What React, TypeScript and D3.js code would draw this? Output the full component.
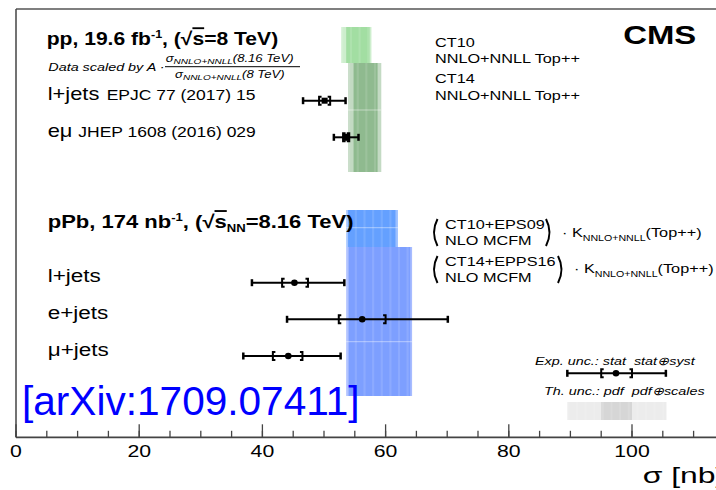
import React from "react";
import * as d3 from "d3";

// ---------- data ----------
const ppChannels = ["l+jets", "eμ"];
const ppRefs = ["EPJC 77 (2017) 15", "JHEP 1608 (2016) 029"];
const ppValue = [50.1, 53.6];
const ppStatLo = [49.2, 53.1];
const ppStatHi = [51.0, 54.1];
const ppTotLo = [46.6, 51.6];
const ppTotHi = [53.5, 55.6];

const pPbChannels = ["l+jets", "e+jets", "μ+jets"];
const pPbValue = [45.2, 56.2, 44.2];
const pPbStatLo = [43.2, 52.4, 41.7];
const pPbStatHi = [47.4, 60.0, 46.5];
const pPbTotLo = [38.3, 44.0, 36.9];
const pPbTotHi = [53.3, 70.1, 52.7];

// theory bands: [outerLo, outerHi, innerLo, innerHi]
const ct10Band = [52.8, 57.7, 53.6, 57.4];
const ct14Band = [53.9, 59.3, 54.8, 58.7];
const eps09Band = [53.6, 62.0, 53.9, 61.6];
const epps16Band = [53.6, 64.3, 54.0, 64.0];

// legend samples
const legendBand = [89.5, 105.6, 95.0, 100.0];
const legendErr = { v: 97.4, sLo: 95.0, sHi: 100.0, tLo: 89.5, tHi: 105.5 };

const majorTicks = [0, 20, 40, 60, 80, 100, 120, 140];
const tickLabels = ["0", "20", "40", "60", "80", "100"];
const minorTicks = d3.range(0, 141, 5);

// ---------- layout ----------
const W = 716;
const H = 490;
const x = d3.scaleLinear().domain([0, 100]).range([16, 632]);
const axisY = 437.3;
const ppRowY = [100.7, 137.3];
const pPbRowY = [282.7, 319.3, 356];
const FONT = "'Liberation Sans', Arial, Helvetica, sans-serif";
const SX = 1.25;

function T({ x: tx, y: ty, size, weight, italic, anchor, fill, sx, children }: any) {
  return (
    <text
      transform={`translate(${tx},${ty}) scale(${sx ?? SX},1)`}
      fontSize={size}
      fontWeight={weight ?? "normal"}
      fontStyle={italic ? "italic" : "normal"}
      textAnchor={anchor ?? "start"}
      fill={fill ?? "#000"}
      fontFamily={FONT}
      xmlSpace="preserve"
      style={{ whiteSpace: "pre" }}
    >
      {children}
    </text>
  );
}

function Band({ b, y0, y1, outer, inner, split }: any) {
  const stripes = d3.range(b[0], b[1], 0.7);
  return (
    <g>
      <rect x={x(b[0])} y={y0} width={x(b[1]) - x(b[0])} height={y1 - y0} fill={outer} />
      <rect x={x(b[2])} y={y0} width={x(b[3]) - x(b[2])} height={y1 - y0} fill={inner} />
      {stripes.map((s, i) =>
        i % 2 === 0 ? (
          <rect key={i} x={x(s)} y={y0} width={x(s + 0.35) - x(s)} height={y1 - y0} fill="#fff" opacity={0.12} />
        ) : null
      )}
      {(split || []).map((sy: number, i: number) => (
        <line key={"s" + i} x1={x(b[0])} x2={x(b[1])} y1={sy} y2={sy} stroke="#fff" strokeOpacity={0.45} strokeWidth={1} />
      ))}
    </g>
  );
}

function ErrBar({ y, v, sLo, sHi, tLo, tHi, square, size }: any) {
  const xl = x(tLo), xr = x(tHi), bl = x(sLo), br = x(sHi), c = x(v);
  return (
    <g stroke="#000" fill="none">
      <line x1={xl} x2={xr} y1={y} y2={y} strokeWidth={2} />
      <line x1={xl} x2={xl} y1={y - 3.5} y2={y + 3.5} strokeWidth={2.5} />
      <line x1={xr} x2={xr} y1={y - 3.5} y2={y + 3.5} strokeWidth={2.5} />
      <path d={`M${bl + 2.5},${y - 4}H${bl}V${y + 4}H${bl + 2.5}`} strokeWidth={2} />
      <path d={`M${br - 2.5},${y - 4}H${br}V${y + 4}H${br - 2.5}`} strokeWidth={2} />
      {square ? (
        <rect x={c - size / 2} y={y - size / 2} width={size} height={size} fill="#000" stroke="none" />
      ) : (
        <circle cx={c} cy={y} r={3.3} fill="#000" stroke="none" />
      )}
    </g>
  );
}

export default function App() {
  return (
    <svg width={W} height={H} style={{ position: "absolute", left: 0, top: 0, background: "#fff" }}>
      <rect width={W} height={H} fill="#fff" />

      {/* theory bands */}
      <Band b={ct10Band} y0={27} y1={63} outer="#cdeecd" inner="#a2dea2" />
      <Band b={ct14Band} y0={63} y1={172} outer="#c3dac3" inner="#8fba8f" split={[110]} />
      <Band b={eps09Band} y0={210} y1={247} outer="#9cc0ff" inner="#64a0ff" split={[227.7]} />
      <Band b={epps16Band} y0={247} y1={396} outer="#a8bcff" inner="#7d9fff" split={[341.7]} />

      {/* frame */}
      <line x1={16} x2={W} y1={9} y2={9} stroke="#555" strokeWidth={1.5} />
      <line x1={16} x2={16} y1={9} y2={axisY} stroke="#444" strokeWidth={1.5} />

      {/* axis */}
      <line x1={16} x2={W} y1={axisY} y2={axisY} stroke="#444" strokeWidth={1.8} />
      {minorTicks.map((t) => (
        <line key={"m" + t} x1={x(t)} x2={x(t)} y1={axisY} y2={axisY - 6.5} stroke="#444" strokeWidth={1.3} />
      ))}
      {majorTicks.map((t) => (
        <line key={"M" + t} x1={x(t)} x2={x(t)} y1={axisY} y2={axisY - 13} stroke="#444" strokeWidth={1.3} />
      ))}
      {tickLabels.map((l) => (
        <T key={"L" + l} x={x(+l)} y={456.5} size={17} anchor="middle">{l}</T>
      ))}
      <T x={642.7} y={483} size={22} sx={1.45}>σ [nb]</T>

      {/* pp section */}
      <T x={46.7} y={45} size={18.5} weight="bold" sx={1.14}>
        pp, 19.6 fb<tspan fontSize={11} dy={-7}>-1</tspan>
        <tspan dy={7}>, (√</tspan>
        <tspan style={{ textDecoration: "overline" }}>s</tspan>=8 TeV)
      </T>
      <T x={48.3} y={71} size={11.5} italic>Data scaled by A ·</T>
      <T x={165.7} y={61.5} size={10.5} italic>
        σ<tspan fontSize={8} dy={2.5}>NNLO+NNLL</tspan>
        <tspan dy={-2.5}>(8.16 TeV)</tspan>
      </T>
      <line x1={165} x2={300} y1={66.7} y2={66.7} stroke="#000" strokeWidth={1} />
      <T x={175} y={77.5} size={10.5} italic>
        σ<tspan fontSize={8} dy={2.5}>NNLO+NNLL</tspan>
        <tspan dy={-2.5}>(8 TeV)</tspan>
      </T>
      {ppChannels.map((c, i) => (
        <g key={c}>
          <T x={47.7} y={ppRowY[i] - 0.5} size={17.5}>{c}</T>
          <T x={i === 0 ? 106.7 : 78.3} y={ppRowY[i] - 0.5} size={14}>{ppRefs[i]}</T>
          <ErrBar
            y={ppRowY[i]}
            v={ppValue[i]}
            sLo={ppStatLo[i]}
            sHi={ppStatHi[i]}
            tLo={ppTotLo[i]}
            tHi={ppTotHi[i]}
            square
            size={i === 0 ? 6 : 7}
          />
        </g>
      ))}

      <T x={435} y={46.7} size={13}>CT10</T>
      <T x={435} y={63.3} size={13}>NNLO+NNLL Top++</T>
      <T x={435} y={83.3} size={13}>CT14</T>
      <T x={435} y={100} size={13}>NNLO+NNLL Top++</T>

      <T x={623.3} y={44} size={26.5} weight="bold" sx={1.24}>CMS</T>

      {/* pPb section */}
      <T x={47.7} y={228.3} size={18.5} weight="bold" sx={1.19}>
        pPb, 174 nb<tspan fontSize={11} dy={-7}>-1</tspan>
        <tspan dy={7}>, (√</tspan>
        <tspan style={{ textDecoration: "overline" }}>s</tspan>
        <tspan fontSize={11} dy={4}>NN</tspan>
        <tspan dy={-4}>=8.16 TeV)</tspan>
      </T>
      {pPbChannels.map((c, i) => (
        <g key={c}>
          <T x={47.7} y={pPbRowY[i] - 0.5} size={18}>{c}</T>
          <ErrBar
            y={pPbRowY[i]}
            v={pPbValue[i]}
            sLo={pPbStatLo[i]}
            sHi={pPbStatHi[i]}
            tLo={pPbTotLo[i]}
            tHi={pPbTotHi[i]}
          />
        </g>
      ))}

      {/* pPb legend */}
      <path d="M437.5,219 Q430.5,232.5 437.5,246" stroke="#000" strokeWidth={2} fill="none" />
      <T x={445} y={229.3} size={13}>CT10+EPS09</T>
      <T x={445} y={245} size={13}>NLO MCFM</T>
      <path d="M546,219 Q553,232.5 546,246" stroke="#000" strokeWidth={2} fill="none" />
      <T x={562} y={236.7} size={13}>
        · K<tspan fontSize={8.5} dy={4}>NNLO+NNLL</tspan>
        <tspan dy={-4}>(Top++)</tspan>
      </T>

      <path d="M437.5,256 Q430.5,269.5 437.5,283" stroke="#000" strokeWidth={2} fill="none" />
      <T x={445} y={266} size={13}>CT14+EPPS16</T>
      <T x={445} y={281.7} size={13}>NLO MCFM</T>
      <path d="M558,256 Q565,269.5 558,283" stroke="#000" strokeWidth={2} fill="none" />
      <T x={574} y={273.3} size={13}>
        · K<tspan fontSize={8.5} dy={4}>NNLO+NNLL</tspan>
        <tspan dy={-4}>(Top++)</tspan>
      </T>

      {/* uncertainty legend */}
      <T x={535} y={365} size={11.5} italic>Exp. unc.: stat  stat⊕syst</T>
      <ErrBar y={373.3} v={legendErr.v} sLo={legendErr.sLo} sHi={legendErr.sHi} tLo={legendErr.tLo} tHi={legendErr.tHi} />
      <T x={544} y={395} size={11.5} italic>Th. unc.: pdf  pdf⊕scales</T>
      <Band b={legendBand} y0={402} y1={420} outer="#ececec" inner="#d6d6d6" />

      {/* arXiv tag */}
      <text x={22} y={415} fontSize={40.6} fill="#0000ff" fontFamily={FONT}>[arXiv:1709.07411]</text>
    </svg>
  );
}
